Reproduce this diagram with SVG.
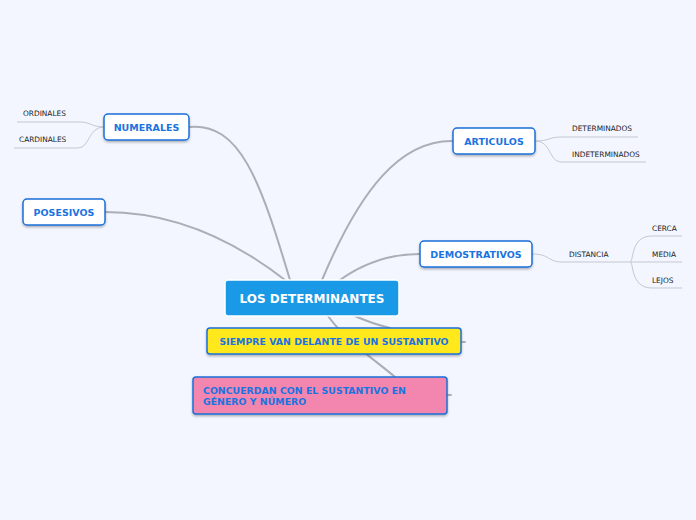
<svg xmlns="http://www.w3.org/2000/svg" width="696" height="520" viewBox="0 0 696 520">
<defs>
<filter id="sh" x="-10%" y="-20%" width="120%" height="150%">
<feDropShadow dx="0" dy="1.5" stdDeviation="1.2" flood-color="#000" flood-opacity="0.3"/>
</filter>
<style>
.main{fill:none;stroke:#a9aeb8;stroke-width:2;stroke-linecap:round}
.sub{fill:none;stroke:#c3c7cf;stroke-width:1}
.box{fill:#fff;stroke:#1b6fd8;stroke-width:1.5;filter:url(#sh)}
.lbl{font-family:"DejaVu Sans",Verdana,sans-serif;font-weight:bold;font-size:9.5px;fill:#1a73e0;text-anchor:middle}
.small{font-family:"DejaVu Sans",Verdana,sans-serif;font-size:7.4px;fill:#222}
.note{font-family:"DejaVu Sans",Verdana,sans-serif;font-weight:bold;font-size:9.4px;fill:#1a73e0}
</style>
</defs>
<rect width="696" height="520" fill="#f3f6fe"/>
<g id="connectors">
<path class="main" d="M189,127 C240,122 260,180 290,280"/>
<path class="main" d="M105,212 C180,212 240,245 285,280"/>
<path class="main" d="M453,141 C400,140 360,190 322,280"/>
<path class="main" d="M420,254 C390,254 365,262 340,280"/>
<path class="main" d="M355,316 C368,322 378,325 390,328"/>
<path class="main" d="M461,342 L465,342"/>
<path class="main" d="M328,316 C345,340 375,360 395,377"/>
<path class="main" d="M447,395 L451,395"/>
<path class="sub" d="M104,127 C92,127 90,122 80,122 L17,122"/>
<path class="sub" d="M104,127 C88,127 90,148 78,148 L14,148"/>
<path class="sub" d="M535,141 C550,141 548,137 562,137 L638,137"/>
<path class="sub" d="M535,141 C552,141 548,162 562,162 L646,162"/>
<path class="sub" d="M532,254 C550,254 548,262 562,262 L630,262"/>
<path class="sub" d="M630,262 C634,262 630,236 652,236 L682,236"/>
<path class="sub" d="M630,262 L682,262"/>
<path class="sub" d="M630,262 C634,262 630,288 652,288 L682,288"/>
</g>
<g id="central">
<rect x="225" y="280" width="174" height="36" rx="3" fill="#1a99e6" stroke="#fff" stroke-width="1.5"/>
<text x="312" y="303" font-family="DejaVu Sans,Verdana,sans-serif" font-weight="bold" font-size="12px" fill="#fff" text-anchor="middle">LOS DETERMINANTES</text>
</g>
<g id="numerales">
<rect class="box" x="104" y="114" width="85" height="26" rx="4"/>
<text class="lbl" x="146.5" y="130.5">NUMERALES</text>
</g>
<g id="ordinales"><text class="small" x="23" y="116">ORDINALES</text></g>
<g id="cardinales"><text class="small" x="19" y="142">CARDINALES</text></g>
<g id="posesivos">
<rect class="box" x="23" y="199" width="82" height="26" rx="4"/>
<text class="lbl" x="64" y="215.5">POSESIVOS</text>
</g>
<g id="articulos">
<rect class="box" x="453" y="128" width="82" height="26" rx="4"/>
<text class="lbl" x="494" y="144.5">ARTICULOS</text>
</g>
<g id="determinados"><text class="small" x="572" y="131">DETERMINADOS</text></g>
<g id="indeterminados"><text class="small" x="572" y="157">INDETERMINADOS</text></g>
<g id="demostrativos">
<rect class="box" x="420" y="241" width="112" height="26" rx="4"/>
<text class="lbl" x="476" y="257.5">DEMOSTRATIVOS</text>
</g>
<g id="distancia"><text class="small" x="569" y="257">DISTANCIA</text></g>
<g id="cerca"><text class="small" x="652" y="231">CERCA</text></g>
<g id="media"><text class="small" x="652" y="257">MEDIA</text></g>
<g id="lejos"><text class="small" x="652" y="283">LEJOS</text></g>
<g id="siempre">
<rect x="207" y="328" width="254" height="26" rx="3" fill="#ffe81a" stroke="#1b6fd8" stroke-width="1.5" filter="url(#sh)"/>
<text class="note" x="334" y="345" text-anchor="middle">SIEMPRE VAN DELANTE DE UN SUSTANTIVO</text>
</g>
<g id="concuerdan">
<rect x="193" y="377" width="254" height="37" rx="3" fill="#f286ae" stroke="#1b6fd8" stroke-width="1.5" filter="url(#sh)"/>
<text class="note" x="203" y="394">CONCUERDAN CON EL SUSTANTIVO EN</text>
<text class="note" x="203" y="405">GÉNERO Y NÚMERO</text>
</g>
</svg>
